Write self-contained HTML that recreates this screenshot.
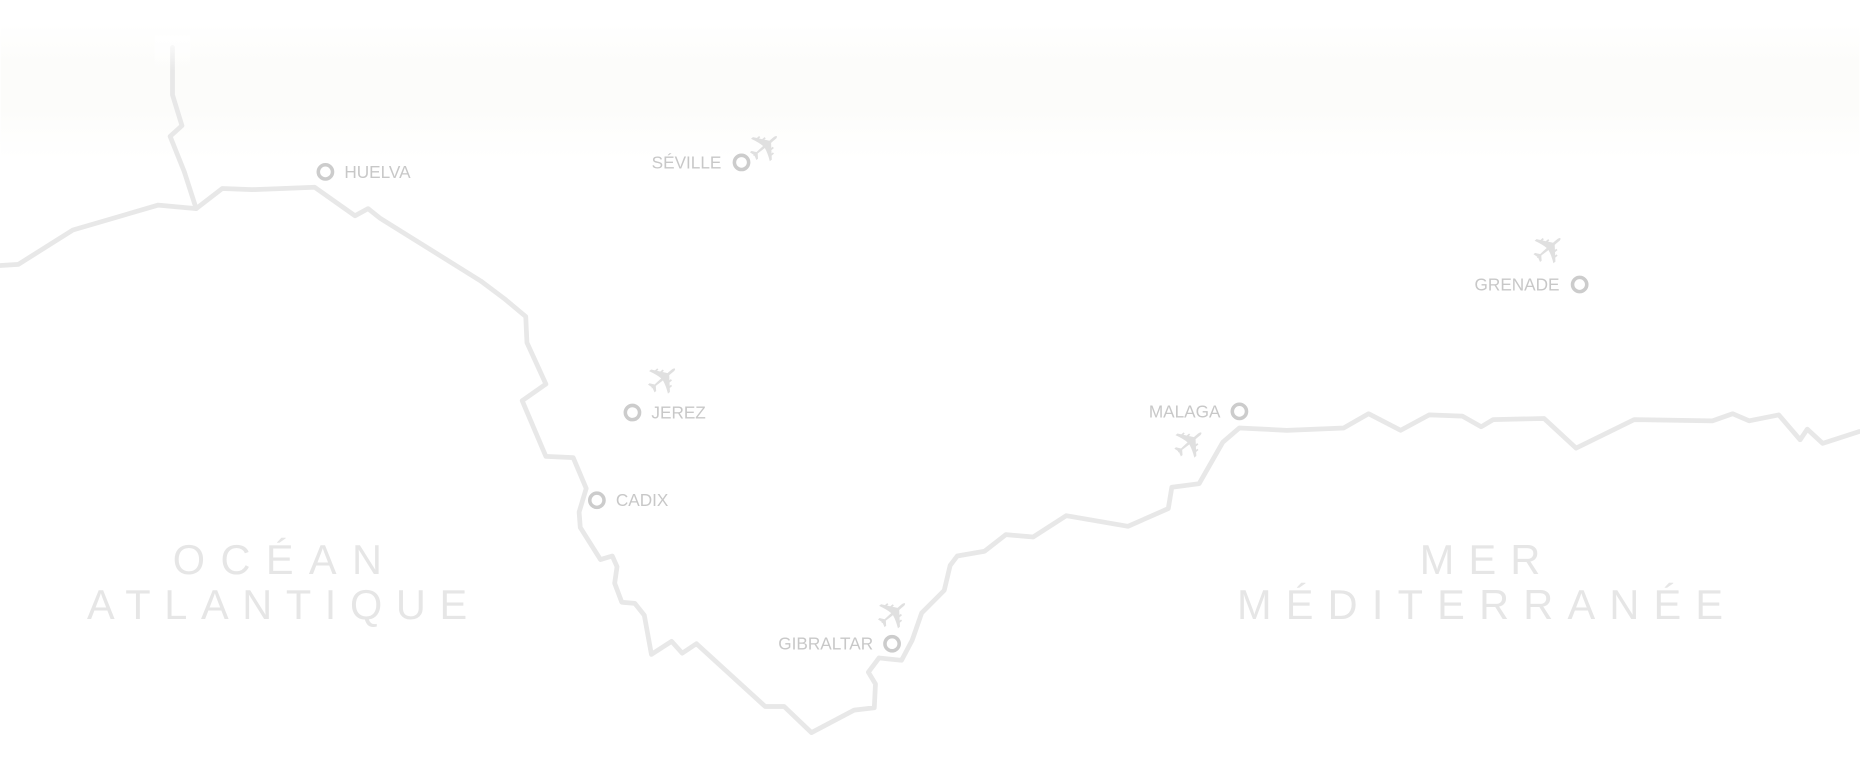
<!DOCTYPE html>
<html><head><meta charset="utf-8"><style>
html,body{margin:0;padding:0;background:#fff;}
svg{display:block}
</style></head><body>
<svg width="1860" height="767" viewBox="0 0 1568 647" xmlns="http://www.w3.org/2000/svg">
<defs>
<linearGradient id="g" x1="0" y1="0" x2="0" y2="1">
<stop offset="0" stop-color="#fff"/>
<stop offset="0.3" stop-color="#fcfcfa"/>
<stop offset="0.6" stop-color="#fcfcfa"/>
<stop offset="1" stop-color="#fff"/>
</linearGradient>
<linearGradient id="f" x1="0" y1="0" x2="0" y2="1">
<stop offset="0" stop-color="#fff" stop-opacity="1"/>
<stop offset="1" stop-color="#fff" stop-opacity="0"/>
</linearGradient>
</defs>
<rect x="0" y="20" width="1568" height="115" fill="url(#g)"/>
<g fill="none" stroke="#e8e8e8" stroke-width="4" stroke-linejoin="round" stroke-linecap="round">
<polyline points="145,40 145,80 153,106 143,115 155,145 165,176"/>
<polyline points="0,224 15,223 61,194 133,173 165,176 187,159 212,160 265,158 299,182 310,176 320,184 405,237 425,252 443,267 444,289 460,324 440,338 460,385 483,386 494,412 488,432 489,445 506,472 516,469 520,478 518,492 524,508 535,509 543,519 549,552 566,541 575,551 587,543 645,596 661,596 684,618 720,599 737,597 738,577 732,567 741,555 760,557 769,540 777,517 796,498 801,477 807,469 830,465 848,451 871,453 899,435 951,444 985,429 988,411 1011,408 1031,373 1045,361 1085,363 1133,361 1154,349 1181,363 1205,350 1233,351 1249,360 1259,354 1302,353 1329,378 1378,354 1444,355 1461,349 1475,355 1500,350 1518,371 1524,362 1537,374 1568,364"/>
</g>
<rect x="130" y="30" width="30" height="30" fill="url(#f)"/>
<g fill="none" stroke="#cccccc" stroke-width="3">
<circle cx="274" cy="145" r="6"/>
<circle cx="625" cy="137" r="6"/>
<circle cx="533" cy="348" r="6"/>
<circle cx="503" cy="422" r="6"/>
<circle cx="752" cy="543" r="6"/>
<circle cx="1045" cy="347" r="6"/>
<circle cx="1332" cy="240" r="6"/>
</g>
<g font-family="Liberation Sans, sans-serif" font-size="14.5" fill="#c8c8c8">
<text x="290" y="150">HUELVA</text>
<text x="608" y="142" text-anchor="end">SÉVILLE</text>
<text x="549" y="353">JEREZ</text>
<text x="519" y="427">CADIX</text>
<text x="736" y="548" text-anchor="end">GIBRALTAR</text>
<text x="1029" y="352" text-anchor="end">MALAGA</text>
<text x="1315" y="245" text-anchor="end">GRENADE</text>
</g>
<g font-family="DejaVu Sans, sans-serif" font-size="36" fill="#e0e0e0">
<text transform="translate(647,126) rotate(-40)" text-anchor="middle" dominant-baseline="middle">✈</text>
<text transform="translate(561,322) rotate(-40)" text-anchor="middle" dominant-baseline="middle">✈</text>
<text transform="translate(755,520) rotate(-40)" text-anchor="middle" dominant-baseline="middle">✈</text>
<text transform="translate(1005,376) rotate(-40)" text-anchor="middle" dominant-baseline="middle">✈</text>
<text transform="translate(1308,212) rotate(-40)" text-anchor="middle" dominant-baseline="middle">✈</text>
</g>
<g font-family="Liberation Sans, sans-serif" font-size="35" fill="#e6e6e6" text-anchor="middle">
<text x="240" y="484" letter-spacing="13">OCÉAN</text>
<text x="239" y="522" letter-spacing="11.5">ATLANTIQUE</text>
<text x="1254" y="484" letter-spacing="12">MER</text>
<text x="1254" y="522" letter-spacing="12">MÉDITERRANÉE</text>
</g>
</svg>
</body></html>
